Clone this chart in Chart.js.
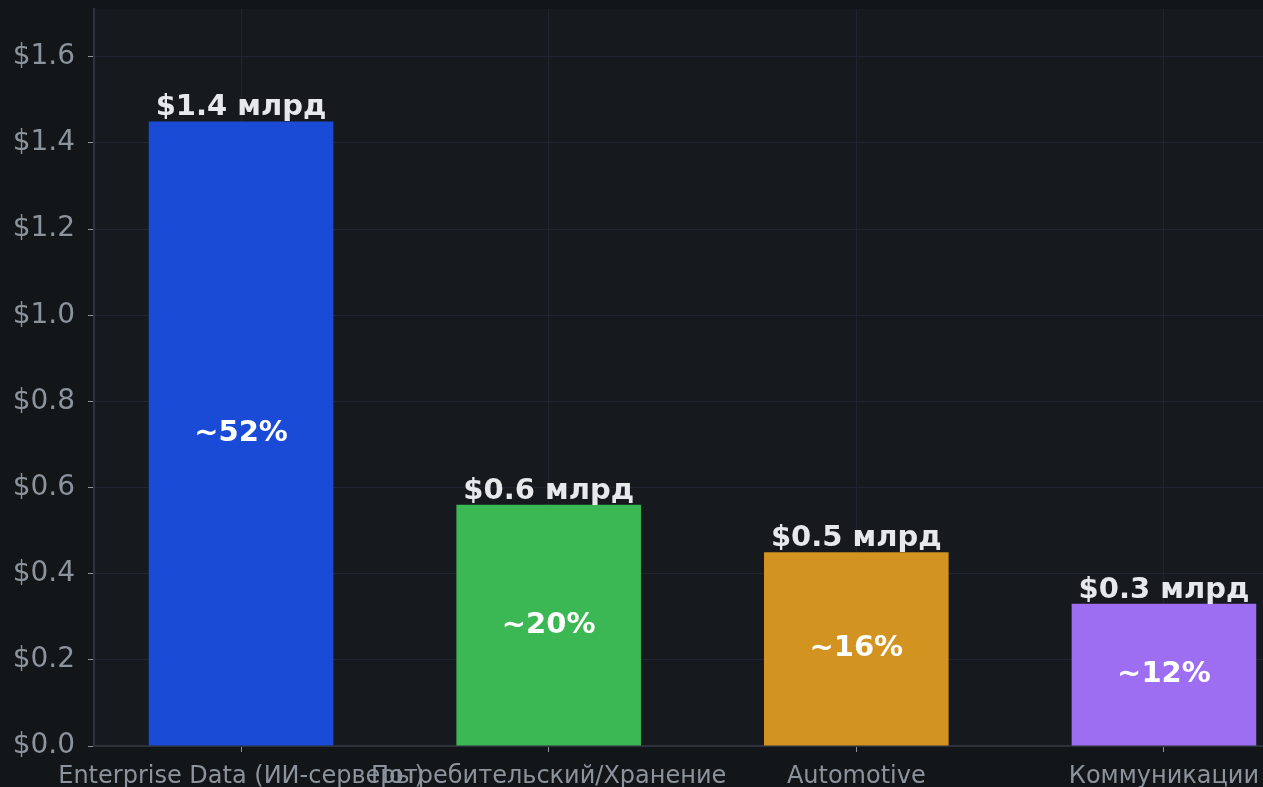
<!DOCTYPE html>
<html lang="ru">
<head>
  <meta charset="UTF-8" />
  <title>Выручка по сегментам</title>
  <script src="https://cdn.jsdelivr.net/npm/chart.js"></script>
  <style>
    html, body {
      margin: 0;
      padding: 0;
      background: #121619;
      overflow: hidden;
    }
    .chart-container {
      width: 1263px;
      height: 787px;
    }
  </style>
</head>
<body>

  <div class="chart-container">
    <canvas id="barChart"></canvas>
  </div>

  <script>
    // Data
    const segments = ['Enterprise Data (ИИ-серверы)', 'Потребительский/Хранение', 'Automotive', 'Коммуникации'];
    const revenue = [1.45, 0.56, 0.45, 0.33]; // $ млрд
    const valueLabels = ['$1.4 млрд', '$0.6 млрд', '$0.5 млрд', '$0.3 млрд'];
    const shareLabels = ['~52%', '~20%', '~16%', '~12%'];
    const barColors = ['#1a4bd6', '#3bb854', '#d39320', '#9e6ef2'];

    const FONT = "'DejaVu Sans', sans-serif";

    // plot area background
    const areaBg = {
      id: 'areaBg',
      beforeDraw(chart) {
        const { ctx, chartArea: a } = chart;
        ctx.save();
        ctx.fillStyle = '#161a1f';
        ctx.fillRect(a.left, a.top, a.right - a.left, a.bottom - a.top);
        ctx.restore();
      }
    };

    // value labels above bars, share labels in the middle
    const barLabels = {
      id: 'barLabels',
      afterDatasetsDraw(chart) {
        const ctx = chart.ctx;
        const meta = chart.getDatasetMeta(0);
        ctx.save();
        ctx.textAlign = 'center';
        meta.data.forEach((bar, i) => {
          ctx.font = 'bold 29px ' + FONT;
          ctx.fillStyle = '#e6e8eb';
          ctx.textBaseline = 'bottom';
          ctx.fillText(valueLabels[i], bar.x, bar.y + 1);
          ctx.fillStyle = '#ffffff';
          ctx.textBaseline = 'middle';
          ctx.fillText(shareLabels[i], bar.x, (bar.y + bar.base) / 2);
        });
        ctx.restore();
      }
    };

    const ctx = document.getElementById('barChart').getContext('2d');
    const barChart = new Chart(ctx, {
      type: 'bar',
      data: {
        datasets: [{
          data: revenue.map((v, i) => ({ x: i, y: v })),
          backgroundColor: barColors,
          borderWidth: 0,
          barPercentage: 0.6,
          categoryPercentage: 1.0
        }]
      },
      options: {
        responsive: true,
        maintainAspectRatio: false,
        animation: false,
        layout: { padding: { top: 9, left: 0, right: 0, bottom: 0 } },
        scales: {
          x: {
            type: 'linear',
            min: -0.478,
            max: 3.322,
            offset: false,
            afterBuildTicks: axis => {
              axis.ticks = axis.ticks.filter(t => Number.isInteger(t.value));
            },
            afterFit: scale => {
              scale.height = 41;
              scale.paddingLeft = 0;
              scale.paddingRight = 0;
            },
            ticks: {
              stepSize: 1,
              includeBounds: false,
              autoSkip: false,
              maxRotation: 0,
              padding: 10,
              color: '#8b939c',
              font: { family: FONT, size: 24 },
              callback: v => segments[v] ?? ''
            },
            grid: {
              offset: false,
              color: '#1f2430',
              tickColor: '#8b939c',
              tickLength: 6,
              lineWidth: 1
            },
            border: { color: '#2c313b', width: 2 }
          },
          y: {
            min: 0,
            max: 1.711,
            afterBuildTicks: axis => {
              axis.ticks = axis.ticks.filter(t => Math.abs(t.value * 5 - Math.round(t.value * 5)) < 1e-6);
            },
            afterFit: scale => {
              scale.width = 94;
              scale.paddingTop = 0;
              scale.paddingBottom = 0;
            },
            ticks: {
              stepSize: 0.2,
              includeBounds: false,
              padding: 13,
              color: '#8b939c',
              font: { family: FONT, size: 28 },
              callback: v => '$' + Number(v).toFixed(1)
            },
            grid: {
              color: '#1f2430',
              tickColor: '#8b939c',
              tickLength: 6,
              lineWidth: 1
            },
            border: { color: '#2c313b', width: 2 }
          }
        },
        plugins: {
          legend: { display: false },
          tooltip: { enabled: false }
        }
      },
      plugins: [areaBg, barLabels]
    });
  </script>

</body>
</html>
